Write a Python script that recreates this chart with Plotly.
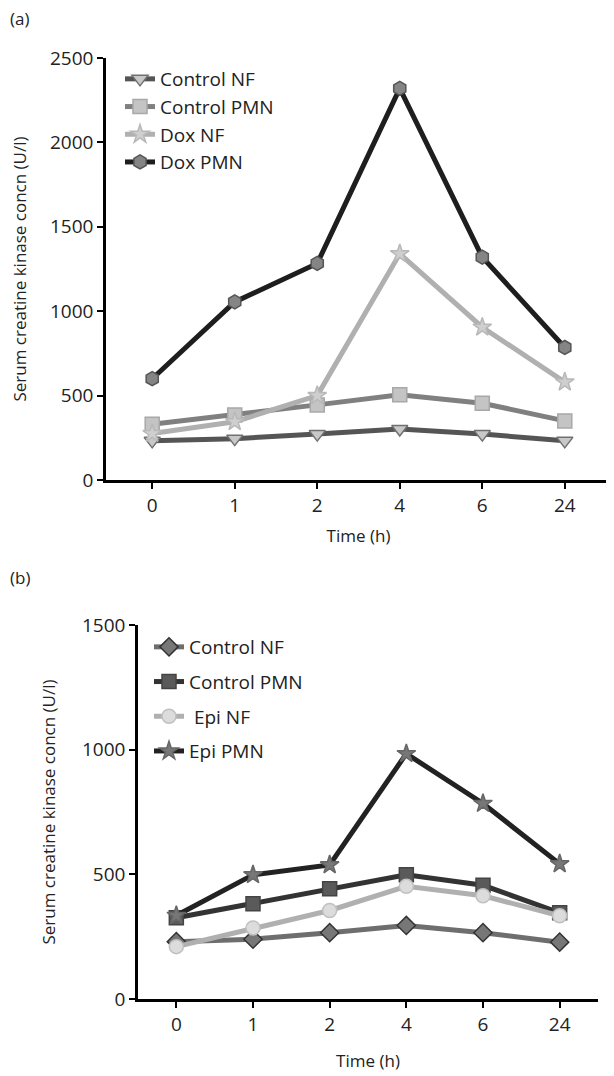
import plotly.graph_objects as go

time_labels = ["0", "1", "2", "4", "6", "24"]

# Panel (a)
a_control_nf = [232, 245, 272, 302, 272, 232]
a_control_pmn = [330, 385, 445, 505, 455, 350]
a_dox_nf = [275, 345, 500, 1340, 905, 580]
a_dox_pmn = [600, 1055, 1283, 2320, 1320, 785]

# Panel (b)
b_control_nf = [230, 240, 266, 295, 266, 228]
b_control_pmn = [326, 382, 442, 498, 456, 346]
b_epi_nf = [210, 285, 355, 452, 414, 334]
b_epi_pmn = [335, 498, 538, 984, 784, 542]

FONT = "Open Sans"
fig = go.Figure()

def add(y, name, lc, sym, mc, mlc, xa, ya, legend, grp):
    fig.add_trace(go.Scatter(
        x=time_labels, y=y, name=name, mode="lines+markers",
        line=dict(color=lc, width=5),
        marker=dict(symbol=sym, size=14, color=mc, line=dict(color=mlc, width=1.5)),
        xaxis=xa, yaxis=ya, legend=legend, legendgroup=grp))

add(a_control_nf, "Control NF", "#555555", "triangle-down", "#c8c8c8", "#707070", "x", "y", "legend", "a1")
add(a_control_pmn, "Control PMN", "#808080", "square", "#c4c4c4", "#a8a8a8", "x", "y", "legend", "a2")
add(a_dox_nf, "Dox NF", "#b0b0b0", "star", "#cfcfcf", "#b8b8b8", "x", "y", "legend", "a3")
add(a_dox_pmn, "Dox PMN", "#1e1e1e", "hexagon", "#858585", "#555555", "x", "y", "legend", "a4")

add(b_control_nf, "Control NF", "#6e6e6e", "diamond", "#777777", "#333333", "x2", "y2", "legend2", "b1")
add(b_control_pmn, "Control PMN", "#333333", "square", "#5a5a5a", "#444444", "x2", "y2", "legend2", "b2")
add(b_epi_nf, " Epi NF", "#b0b0b0", "circle", "#dcdcdc", "#c0c0c0", "x2", "y2", "legend2", "b3")
add(b_epi_pmn, "Epi PMN", "#222222", "star", "#777777", "#666666", "x2", "y2", "legend2", "b4")

# page body has an 8px margin: figure is 606x1068 placed at (8, 8)
OFF = 8
W, H = 614 - OFF, 1076 - OFF
def px(x):
    return (x - OFF) / W
def py(y):
    return 1 - (y - OFF) / H

axis_common = dict(showline=True, linecolor="black", linewidth=2.5, ticks="outside",
                   ticklen=6, tickwidth=2, tickcolor="black", showgrid=False, zeroline=False,
                   automargin=False,
                   tickfont=dict(family=FONT, size=19, color="#222"))

fig.update_layout(
    width=W, height=H, margin=dict(l=0, r=0, t=0, b=0),
    plot_bgcolor="white", paper_bgcolor="white",
    font=dict(family=FONT, size=17, color="#222"),
    xaxis=dict(domain=[px(106), px(611)], anchor="y", type="category", range=[-0.56, 5.56],
               title=dict(text="Time (h)", font=dict(size=17), standoff=14), **axis_common),
    yaxis=dict(domain=[py(480), py(58)], anchor="x", range=[0, 2500], tickvals=[0, 500, 1000, 1500, 2000, 2500],
               title=dict(text="Serum creatine kinase concn (U/l)", font=dict(size=17), standoff=22), **axis_common),
    xaxis2=dict(domain=[px(138), px(598)], anchor="y2", type="category", range=[-0.5, 5.5],
                title=dict(text="Time (h)", font=dict(size=17), standoff=20), **axis_common),
    yaxis2=dict(domain=[py(999), py(625)], anchor="x2", range=[0, 1500], tickvals=[0, 500, 1000, 1500],
                title=dict(text="Serum creatine kinase concn (U/l)", font=dict(size=17), standoff=23), **axis_common),
    legend=dict(x=px(120), y=py(60), xanchor="left", yanchor="top", bgcolor="rgba(0,0,0,0)",
                font=dict(family=FONT, size=19), tracegroupgap=0, itemwidth=30, traceorder="grouped"),
    legend2=dict(x=px(149), y=py(628), xanchor="left", yanchor="top", bgcolor="rgba(0,0,0,0)",
                 font=dict(family=FONT, size=19), tracegroupgap=7, itemwidth=30, traceorder="grouped"),
    showlegend=True,
)

fig.add_annotation(text="(a)", x=px(8), y=py(18), xref="paper", yref="paper", showarrow=False,
                   xanchor="left", yanchor="middle", font=dict(family=FONT, size=17, color="#222"))
fig.add_annotation(text="(b)", x=px(8), y=py(577), xref="paper", yref="paper", showarrow=False,
                   xanchor="left", yanchor="middle", font=dict(family=FONT, size=17, color="#222"))

fig.write_html("out.html")
